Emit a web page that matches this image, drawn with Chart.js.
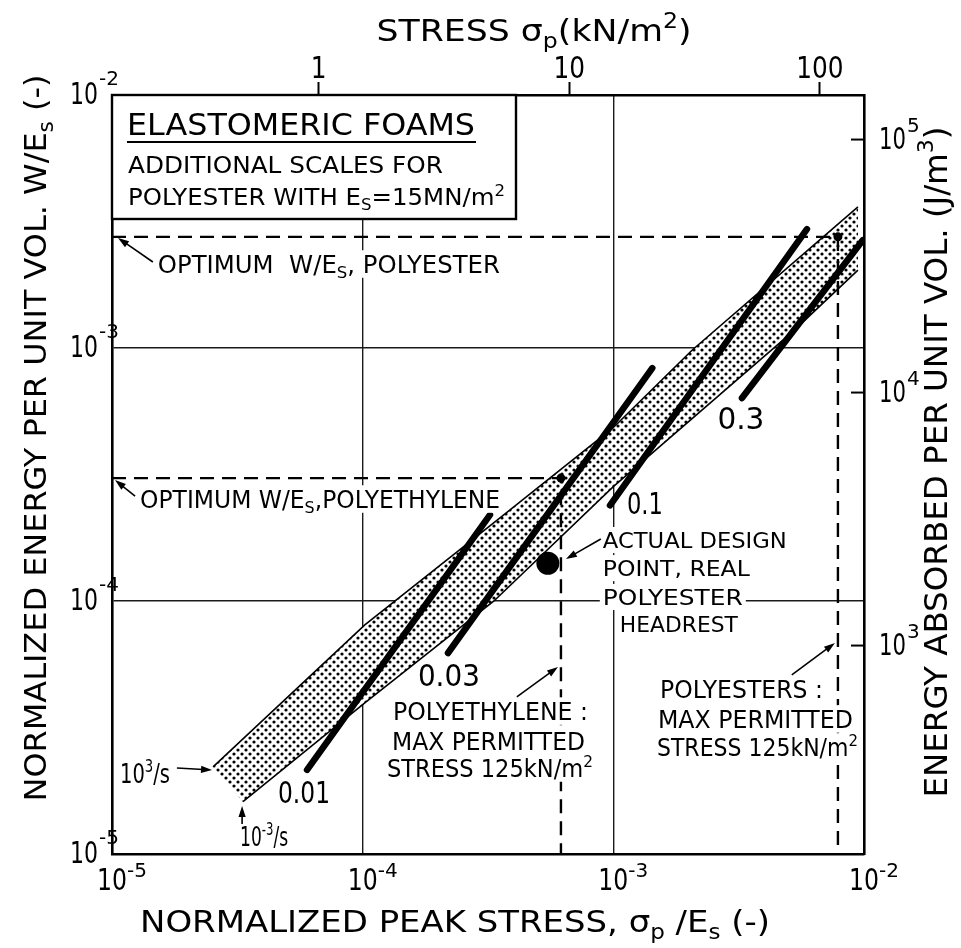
<!DOCTYPE html>
<html>
<head>
<meta charset="utf-8">
<script src="https://cdn.jsdelivr.net/npm/chart.js@4.4.1/dist/chart.umd.min.js"></script>
<style>
  html, body { margin: 0; padding: 0; background: #fff; }
</style>
</head>
<body>
<canvas id="c" width="961" height="948"></canvas>
<script>
// axes: normalized stress / energy, plus the polyester scales (Es = 15 MN/m2)
const X_MIN = 1e-5, X_MAX = 1e-2;
const Y_MIN = 1e-5, Y_MAX = 1e-2;
const ES_KN = 15000;   // kN/m2
const ES_J = 15e6;     // J/m3

const xTicks = [1e-5, 1e-4, 1e-3, 1e-2];
const xTickExp = ["-5", "-4", "-3", "-2"];
const yTicks = [1e-5, 1e-4, 1e-3, 1e-2];
const yTickExp = ["-5", "-4", "-3", "-2"];
const gridValues = [1e-4, 1e-3];
const topTicks = [1, 10, 100];
const topTickLabels = ["1", "10", "100"];
const rightTicks = [1e3, 1e4, 1e5];
const rightTickExp = ["3", "4", "5"];

// stippled band: upper edge 10^3/s, lower edge 10^-3/s
const bandUpperX = [2.53e-5, 1.02e-4, 3.53e-4, 9.96e-4, 2.06e-3, 9.46e-3];
const bandUpperY = [2.21e-5, 8.04e-5, 2.13e-4, 4.83e-4, 9.8e-4, 3.61e-3];
const bandLowerX = [3.33e-5, 1.02e-4, 3.34e-4, 1.0e-3, 5.2e-3, 9.46e-3];
const bandLowerY = [1.61e-5, 3.96e-5, 1.0e-4, 2.83e-4, 1.16e-3, 2.03e-3];

// heavy lines, one per relative density
const designLabels = ["0.01", "0.03", "0.1", "0.3"];
const designStartX = [6.0e-5, 2.19e-4, 9.7e-4, 3.26e-3];
const designStartY = [2.15e-5, 6.23e-5, 2.39e-4, 6.34e-4];
const designEndX = [3.22e-4, 1.43e-3, 5.92e-3, 9.9e-3];
const designEndY = [2.19e-4, 8.33e-4, 2.95e-3, 2.67e-3];

// optimum points (polyethylene, polyester) and the real headrest
const optimumNames = ["polyethylene", "polyester"];
const optimumX = [6.18e-4, 7.87e-3];
const optimumY = [3.06e-4, 2.75e-3];
const designPointX = [5.48e-4];
const designPointY = [1.41e-4];

const FONT = '"DejaVu Sans", "Liberation Sans", sans-serif';

function stipple() {
  const c = document.createElement("canvas");
  c.width = 8; c.height = 8;
  const g = c.getContext("2d");
  g.fillStyle = "#fff";
  g.fillRect(0, 0, 8, 8);
  g.fillStyle = "#000";
  [[2, 2], [6, 6]].forEach(([x, y]) => {
    g.beginPath(); g.arc(x, y, 1.6, 0, Math.PI * 2); g.fill();
  });
  return g.createPattern(c, "repeat");
}

const xy = (xs, ys) => xs.map((x, i) => ({ x, y: ys[i] }));

const bandShape = xy(bandUpperX, bandUpperY).concat(xy(bandLowerX, bandLowerY).reverse());

const line = (data, extra) => Object.assign({
  data, showLine: true, pointRadius: 0, borderColor: "#000", borderWidth: 1.6, fill: false,
}, extra);

const datasets = [
  line(bandShape, { label: "band", fill: "shape", backgroundColor: stipple(), borderWidth: 0, borderColor: "rgba(0,0,0,0)", order: 9 }),
  line(xy(bandUpperX, bandUpperY), { label: "10^3/s", order: 8 }),
  line(xy(bandLowerX, bandLowerY), { label: "10^-3/s", order: 8 }),
];
optimumNames.forEach((name, i) => {
  datasets.push(line([
    { x: X_MIN, y: optimumY[i] },
    { x: optimumX[i], y: optimumY[i] },
    { x: optimumX[i], y: Y_MIN },
  ], { label: "optimum " + name, borderWidth: 2.4, borderDash: [14, 8], order: 6 }));
});
designLabels.forEach((lab, i) => {
  datasets.push(line([
    { x: designStartX[i], y: designStartY[i] },
    { x: designEndX[i], y: designEndY[i] },
  ], { label: lab, borderWidth: 6.5, borderCapStyle: "round", order: 4 }));
});
datasets.push({ label: "optimum", data: xy(optimumX, optimumY), pointRadius: 4.5, backgroundColor: "#000", borderWidth: 0, order: 1 });
datasets.push({ label: "actual design point", data: xy(designPointX, designPointY), pointRadius: 11.5, backgroundColor: "#000", borderWidth: 0, order: 1 });

// text and arrows, anchored in log10 data coordinates [x, y]
const notes = [
  { parts: [["OPTIMUM  W/E", 0], ["S", -1], [", POLYESTER", 0]], at: [-4.817, -2.668], w: 342, size: 24 },
  { parts: [["OPTIMUM W/E", 0], ["S", -1], [",POLYETHYLENE", 0]], at: [-4.888, -3.597], w: 360, size: 24 },
  { parts: [["ACTUAL DESIGN", 0]], at: [-3.042, -3.759], w: 184, size: 22 },
  { parts: [["POINT, REAL", 0]], at: [-3.042, -3.870], w: 147, size: 22 },
  { parts: [["POLYESTER", 0]], at: [-3.042, -3.984], w: 140, size: 22 },
  { parts: [["HEADREST", 0]], at: [-2.974, -4.091], w: 118, size: 22 },
  { parts: [["POLYETHYLENE :", 0]], at: [-3.879, -4.435], w: 195, size: 24 },
  { parts: [["MAX PERMITTED", 0]], at: [-3.883, -4.553], w: 193, size: 24 },
  { parts: [["STRESS 125kN/m", 0], ["2", 1]], at: [-3.903, -4.660], w: 206, size: 24 },
  { parts: [["POLYESTERS :", 0]], at: [-2.814, -4.348], w: 163, size: 24 },
  { parts: [["MAX PERMITTED", 0]], at: [-2.822, -4.466], w: 195, size: 24 },
  { parts: [["STRESS 125kN/m", 0], ["2", 1]], at: [-2.826, -4.577], w: 201, size: 24 },
  { parts: [["10", 0], ["3", 1], ["/s", 0]], at: [-4.968, -4.680], w: 50, size: 26, noBox: true },
  { parts: [["10", 0], ["-3", 1], ["/s", 0]], at: [-4.489, -4.929], w: 48, size: 26, noBox: true },
];
const labelAt = [[-4.234, -4.755], [-3.656, -4.292], [-2.874, -3.613], [-2.491, -3.277]];
const labelW = [52, 62, 36, 47];
const arrows = [
  [[-4.837, -2.660], [-4.976, -2.565]],
  [[-4.908, -3.585], [-4.988, -3.522]],
  [[-3.050, -3.755], [-3.189, -3.834]],
  [[-3.385, -4.379], [-3.221, -4.261]],
  [[-2.288, -4.292], [-2.116, -4.166]],
  [[-4.741, -4.660], [-4.601, -4.668]],
  [[-4.481, -4.881], [-4.481, -4.810]],
];

function font(size) { return size + "px " + FONT; }

function partsWidth(ctx, parts, size) {
  let w = 0;
  for (const [t, k] of parts) {
    ctx.font = font(k ? size * 0.68 : size);
    w += ctx.measureText(t).width;
  }
  return w;
}

// draw rich text; y is the centre of the capitals.
// width > 0 squeezes it to that width, otherwise squeeze is a plain factor
function drawParts(ctx, parts, x, y, size, width, align, squeeze) {
  const natural = partsWidth(ctx, parts, size);
  const sx = width ? width / natural : (squeeze || 1);
  const total = natural * sx;
  const x0 = align === "center" ? x - total / 2 : align === "right" ? x - total : x;
  ctx.save();
  ctx.translate(x0, y + size * 0.365);
  ctx.scale(sx, 1);
  ctx.textAlign = "left";
  ctx.textBaseline = "alphabetic";
  ctx.fillStyle = "#000";
  let cx = 0;
  for (const [t, k] of parts) {
    ctx.font = font(k ? size * 0.68 : size);
    const dy = k === 1 ? -size * 0.42 : k === -1 ? size * 0.2 : 0;
    ctx.fillText(t, cx, dy);
    cx += ctx.measureText(t).width;
  }
  ctx.restore();
  return total;
}

function arrow(ctx, a, b) {
  const ang = Math.atan2(b.y - a.y, b.x - a.x);
  const len = 11, half = 3.6;
  const c = Math.cos(ang), s = Math.sin(ang);
  ctx.beginPath();
  ctx.moveTo(a.x, a.y);
  ctx.lineTo(b.x - c * len * 0.8, b.y - s * len * 0.8);
  ctx.lineWidth = 1.6;
  ctx.stroke();
  ctx.beginPath();
  ctx.moveTo(b.x, b.y);
  ctx.lineTo(b.x - len * c + half * s, b.y - len * s - half * c);
  ctx.lineTo(b.x - len * c - half * s, b.y - len * s + half * c);
  ctx.closePath();
  ctx.fill();
}

const annotate = {
  id: "annotate",
  afterDatasetsDraw(chart) {
    const ctx = chart.ctx;
    const ca = chart.chartArea;
    const sx = chart.scales.x, sy = chart.scales.y;
    const P = (p) => ({ x: sx.getPixelForValue(10 ** p[0]), y: sy.getPixelForValue(10 ** p[1]) });
    ctx.save();
    ctx.fillStyle = "#000";
    ctx.strokeStyle = "#000";

    // legend box
    ctx.fillStyle = "#fff";
    ctx.fillRect(ca.left, ca.top, 404, 124);
    ctx.lineWidth = 2.4;
    ctx.strokeRect(ca.left, ca.top, 404, 124);
    drawParts(ctx, [["ELASTOMERIC FOAMS", 0]], ca.left + 15, ca.top + 29, 30, 348, "left");
    ctx.beginPath();
    ctx.moveTo(ca.left + 15, ca.top + 47);
    ctx.lineTo(ca.left + 364, ca.top + 47);
    ctx.lineWidth = 2;
    ctx.stroke();
    drawParts(ctx, [["ADDITIONAL SCALES FOR", 0]], ca.left + 16, ca.top + 70, 23, 315, "left");
    drawParts(ctx, [["POLYESTER WITH E", 0], ["S", -1], ["=15MN/m", 0], ["2", 1]], ca.left + 16, ca.top + 102, 23, 377, "left");

    // notes with white backing
    notes.forEach((n) => {
      const p = P(n.at);
      if (!n.noBox) {
        ctx.fillStyle = "#fff";
        ctx.fillRect(p.x - 3, p.y - n.size * 0.365 - 5, n.w + 6, n.size * 0.73 + 10);
      }
      drawParts(ctx, n.parts, p.x, p.y, n.size, n.w, "left");
    });
    designLabels.forEach((lab, i) => {
      const p = P(labelAt[i]);
      drawParts(ctx, [[lab, 0]], p.x, p.y, 31, labelW[i], "center");
    });
    ctx.fillStyle = "#000";
    arrows.forEach(([a, b]) => arrow(ctx, P(a), P(b)));

    // tick labels
    xTicks.forEach((v, i) => {
      const x = sx.getPixelForValue(v);
      drawParts(ctx, [["10", 0]], x, ca.bottom + 25, 31, 30, "center");
      drawParts(ctx, [[xTickExp[i], 0]], x + 15, ca.bottom + 16, 20, 0, "left");
    });
    yTicks.forEach((v, i) => {
      const y = sy.getPixelForValue(v);
      drawParts(ctx, [["10", 0]], ca.left - 14, y - 2, 31, 28, "right");
      drawParts(ctx, [[yTickExp[i], 0]], ca.left - 13, y - 17, 20, 0, "left");
    });
    const s2 = chart.scales.y2;
    ctx.lineWidth = 2;
    rightTicks.forEach((v, i) => {
      const y = s2.getPixelForValue(v);
      ctx.beginPath();
      ctx.moveTo(ca.right, y);
      ctx.lineTo(ca.right - 13, y);
      ctx.stroke();
      drawParts(ctx, [["10", 0]], ca.right + 15, y - 2, 31, 27, "left");
      drawParts(ctx, [[rightTickExp[i], 0]], ca.right + 43, y - 15, 20, 0, "left");
    });
    const t2 = chart.scales.x2;
    topTicks.forEach((v, i) => {
      drawParts(ctx, [[topTickLabels[i], 0]], t2.getPixelForValue(v), ca.top - 28, 31, 0, "center", 0.8);
    });

    // axis titles
    drawParts(ctx, [["STRESS ", 0], ["σ", 0], ["p", -1], ["(kN/m", 0], ["2", 1], [")", 0]],
      ca.left + 422, ca.top - 65, 31, 315, "center");
    drawParts(ctx, [["NORMALIZED PEAK STRESS, ", 0], ["σ", 0], ["p", -1], [" /E", 0], ["s", -1], [" (-)", 0]],
      ca.left + 343, ca.bottom + 67, 31, 630, "center");
    ctx.save();
    ctx.translate(ca.left - 77, ca.top + 343);
    ctx.rotate(-Math.PI / 2);
    drawParts(ctx, [["NORMALIZED ENERGY PER UNIT VOL. W/E", 0], ["s", -1], [" (-)", 0]], 0, 0, 31, 727, "center");
    ctx.restore();
    ctx.save();
    ctx.translate(ca.right + 71, ca.top + 367);
    ctx.rotate(-Math.PI / 2);
    drawParts(ctx, [["ENERGY ABSORBED PER UNIT VOL. (J/m", 0], ["3", 1], [")", 0]], 0, 0, 32, 671, "center");
    ctx.restore();

    ctx.restore();
  },
};

const gridStyle = { color: "#1a1a1a", lineWidth: 1.4, drawTicks: false };
const borderStyle = { display: true, color: "#000", width: 2.6 };

new Chart(document.getElementById("c"), {
  type: "scatter",
  data: { datasets },
  options: {
    responsive: false,
    animation: false,
    events: [],
    layout: { padding: 0 },
    plugins: { legend: { display: false }, tooltip: { enabled: false } },
    scales: {
      x: {
        type: "logarithmic", position: "bottom", min: X_MIN, max: X_MAX,
        afterBuildTicks: (s) => { s.ticks = gridValues.map((v) => ({ value: v })); },
        afterFit: (s) => { s.height = 94; },
        ticks: { display: false }, grid: gridStyle, border: borderStyle,
      },
      y: {
        type: "logarithmic", position: "left", min: Y_MIN, max: Y_MAX,
        afterBuildTicks: (s) => { s.ticks = gridValues.map((v) => ({ value: v })); },
        afterFit: (s) => { s.width = 112; },
        ticks: { display: false }, grid: gridStyle, border: borderStyle,
      },
      x2: {
        type: "logarithmic", position: "top", min: X_MIN * ES_KN, max: X_MAX * ES_KN,
        afterBuildTicks: (s) => { s.ticks = topTicks.map((v) => ({ value: v })); },
        afterFit: (s) => { s.height = 95; },
        ticks: { display: false },
        grid: { drawOnChartArea: false, drawTicks: true, tickLength: 13, tickWidth: 2, tickColor: "#000", color: "#000" },
        border: borderStyle,
      },
      y2: {
        type: "logarithmic", position: "right", min: Y_MIN * ES_J, max: Y_MAX * ES_J,
        afterBuildTicks: (s) => { s.ticks = rightTicks.map((v) => ({ value: v })); },
        afterFit: (s) => { s.width = 97; },
        ticks: { display: false },
        grid: { drawOnChartArea: false, drawTicks: false },
        border: borderStyle,
      },
    },
  },
  plugins: [annotate],
});
</script>
</body>
</html>
